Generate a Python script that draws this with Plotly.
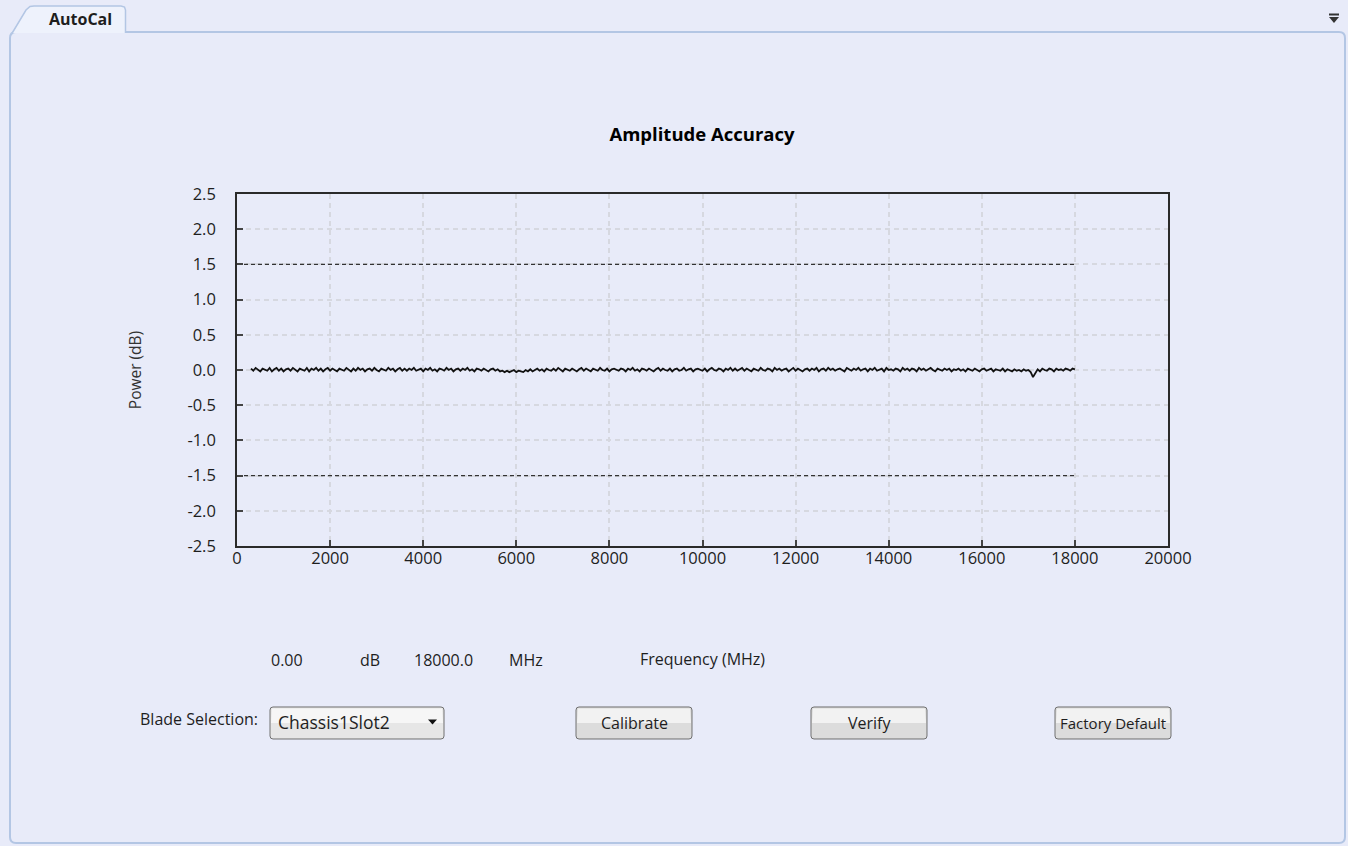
import plotly.graph_objects as go

# ---------------- data ----------------
start_freq_mhz = 300
step_mhz = 50
power_db = [
    0.02, -0.01, 0.03, 0.00, -0.02, 0.02, 0.01, -0.01, 0.03, -0.02,
    0.01, 0.03, -0.01, 0.02, -0.02, 0.01, 0.02, -0.01, 0.03, 0.00,
    -0.02, 0.02, 0.01, -0.01, 0.03, -0.02, 0.02, 0.00, 0.03, -0.01,
    0.02, -0.02, 0.01, 0.03, -0.01, 0.02, 0.00, -0.02, 0.02, 0.01,
    -0.01, 0.03, 0.01, -0.02, 0.02, -0.01, 0.03, 0.00, 0.02, -0.02,
    0.01, 0.02, -0.01, 0.03, 0.00, -0.02, 0.02, 0.01, -0.01, 0.03,
    0.00, 0.02, -0.02, 0.01, 0.03, -0.01, 0.02, -0.01, 0.02, 0.00,
    0.03, -0.01, 0.01, 0.02, -0.02, 0.02, 0.00, 0.03, -0.01, 0.01,
    -0.02, 0.02, 0.01, -0.01, 0.03, 0.00, 0.02, -0.02, 0.01, 0.02,
    -0.01, 0.02, 0.00, 0.03, -0.01, 0.01, -0.02, 0.02, 0.01, -0.01,
    0.02, 0.00, -0.02, 0.01, 0.02, -0.01, 0.01, -0.02, -0.01, -0.03,
    -0.01, -0.03, -0.02, 0.00, -0.03, -0.01, -0.02, -0.03, 0.00, -0.02,
    0.01, -0.02, 0.00, 0.02, -0.01, 0.01, -0.02, 0.02, 0.00, -0.01,
    0.02, -0.01, 0.03, 0.00, -0.02, 0.02, 0.01, -0.01, 0.02, 0.00,
    -0.02, 0.01, 0.03, -0.01, 0.02, 0.00, -0.02, 0.02, 0.01, -0.01,
    0.03, 0.00, -0.01, 0.02, -0.02, 0.01, 0.02, 0.00, -0.01, 0.02,
    0.01, -0.02, 0.02, 0.00, 0.03, -0.01, 0.01, -0.02, 0.02, 0.01,
    -0.01, 0.02, 0.00, -0.02, 0.01, 0.03, -0.01, 0.02, 0.00, -0.01,
    0.02, -0.02, 0.01, 0.02, -0.01, 0.00, 0.03, -0.01, 0.01, 0.02,
    -0.02, 0.01, 0.02, 0.00, -0.01, 0.02, -0.02, 0.01, 0.03, 0.00,
    -0.01, 0.02, 0.01, -0.02, 0.02, 0.00, 0.03, -0.01, 0.02, -0.01,
    0.01, 0.03, -0.01, 0.02, 0.00, -0.02, 0.02, 0.01, -0.01, 0.03,
    0.00, -0.01, 0.02, 0.01, -0.02, 0.03, 0.00, 0.02, -0.01, 0.01,
    0.02, -0.02, 0.01, 0.03, -0.01, 0.02, 0.00, -0.02, 0.01, 0.02,
    -0.01, 0.02, 0.00, 0.03, -0.02, 0.01, 0.02, -0.01, 0.03, 0.00,
    0.02, -0.01, 0.01, 0.02, 0.00, -0.02, 0.03, 0.01, -0.01, 0.02,
    0.00, 0.03, -0.01, 0.01, 0.02, -0.02, 0.02, 0.00, 0.03, -0.01,
    0.01, 0.02, -0.02, 0.03, 0.00, 0.01, -0.01, 0.02, 0.01, -0.02,
    0.03, 0.00, 0.02, -0.01, 0.02, 0.01, -0.02, 0.03, 0.00, 0.02,
    -0.01, 0.01, 0.03, 0.00, -0.02, 0.02, 0.01, -0.01, 0.02, 0.00,
    0.02, -0.02, 0.01, 0.00, 0.02, -0.01, 0.01, -0.02, 0.02, 0.01,
    -0.01, 0.02, 0.00, -0.02, 0.01, 0.02, -0.01, 0.00, 0.02, -0.02,
    0.01, 0.00, -0.01, 0.02, -0.02, 0.01, 0.00, -0.02, 0.01, -0.01,
    0.00, -0.02, 0.01, -0.01, 0.00, -0.03, -0.10, -0.05, 0.01, -0.02,
    0.02, 0.00, -0.01, 0.02, 0.01, -0.02, 0.02, 0.00, 0.01, -0.01,
    0.02, 0.01, -0.01, 0.02, 0.01,
]
freq_mhz = [start_freq_mhz + step_mhz * i for i in range(len(power_db))]

limit_freq = [0, 18000]
upper_limit = [1.5, 1.5]
lower_limit = [-1.5, -1.5]

x_tick_vals = [0, 2000, 4000, 6000, 8000, 10000, 12000, 14000, 16000, 18000, 20000]
x_tick_text = ["0", "2000", "4000", "6000", "8000", "10000", "12000", "14000", "16000", "18000", "20000"]
y_tick_vals = [-2.5, -2.0, -1.5, -1.0, -0.5, 0.0, 0.5, 1.0, 1.5, 2.0, 2.5]
y_tick_text = ["-2.5", "-2.0", "-1.5", "-1.0", "-0.5", "0.0", "0.5", "1.0", "1.5", "2.0", "2.5"]

readout_power = "0.00"
readout_freq = "18000.0"
blade_name = "Chassis1Slot2"

# ---------------- layout helpers ----------------
W, H = 1348, 846
BG = "#e8ebf9"
FONT = "Open Sans, Noto Sans, DejaVu Sans, sans-serif"
TXT = "#1e1e1e"


def px(x):
    return x / W


def py(y):
    return 1 - y / H


def rrect_path(x0, y0, x1, y1, r):
    pts = [
        ("M", [(x0 + r, y0)]), ("L", [(x1 - r, y0)]), ("Q", [(x1, y0), (x1, y0 + r)]),
        ("L", [(x1, y1 - r)]), ("Q", [(x1, y1), (x1 - r, y1)]), ("L", [(x0 + r, y1)]),
        ("Q", [(x0, y1), (x0, y1 - r)]), ("L", [(x0, y0 + r)]), ("Q", [(x0, y0), (x0 + r, y0)]),
    ]
    s = ""
    for cmd, ps in pts:
        s += cmd + " " + " ".join(f"{px(a):.6f},{py(b):.6f}" for a, b in ps) + " "
    return s + "Z"


def poly_path(points, close=True):
    s = "M " + " L ".join(f"{px(a):.6f},{py(b):.6f}" for a, b in points)
    return s + (" Z" if close else "")


shapes = []
annotations = []


def label(text, x, y, size=16, anchor="center", color=TXT):
    annotations.append(dict(text=text, x=px(x), y=py(y), xref="paper", yref="paper",
                            showarrow=False, xanchor=anchor, yanchor="middle",
                            font=dict(family=FONT, size=size, color=color)))


# panel
shapes.append(dict(type="path", xref="paper", yref="paper", layer="below",
                   path=rrect_path(10, 32, 1345, 843, 6),
                   fillcolor=BG, line=dict(color="#b3c6e4", width=2)))
# tab
tab_pts = [(11, 35), (26, 10), (30, 6.5), (34, 6), (121, 6), (124.5, 7), (125.5, 10), (125.5, 33), (11, 33)]
shapes.append(dict(type="path", xref="paper", yref="paper", layer="below",
                   path=poly_path(tab_pts), fillcolor="#eef2fc", line=dict(width=0)))
shapes.append(dict(type="path", xref="paper", yref="paper", layer="below",
                   path=poly_path(tab_pts[:8], close=False), fillcolor="rgba(0,0,0,0)",
                   line=dict(color="#b3c6e4", width=1.5)))
label("<b>AutoCal</b>", 80, 19, size=16)

# top-right menu icon
shapes.append(dict(type="line", xref="paper", yref="paper", x0=px(1329), x1=px(1339),
                   y0=py(14.5), y1=py(14.5), line=dict(color="#333333", width=2)))
shapes.append(dict(type="path", xref="paper", yref="paper",
                   path=poly_path([(1329, 17), (1339, 17), (1334, 23)]),
                   fillcolor="#333333", line=dict(width=0)))


def button(x0, y0, x1, y1, text, size=16, light=False, align="center"):
    top = "#f6f6f6" if light else "#f2f2f2"
    bot = "#e6e6e6" if light else "#dcdcdc"
    ym = (y0 + y1) / 2
    shapes.append(dict(type="path", xref="paper", yref="paper",
                       path=rrect_path(x0, y0, x1, y1, 3), fillcolor=bot, line=dict(width=0)))
    shapes.append(dict(type="path", xref="paper", yref="paper",
                       path=poly_path([(x0 + 2, y0 + 1.5), (x1 - 2, y0 + 1.5), (x1 - 1, ym), (x0 + 1, ym)]),
                       fillcolor=top, line=dict(width=0)))
    shapes.append(dict(type="path", xref="paper", yref="paper",
                       path=rrect_path(x0, y0, x1, y1, 3), fillcolor="rgba(0,0,0,0)",
                       line=dict(color="#707070", width=1)))
    if align == "center":
        label(text, (x0 + x1) / 2, ym, size=size)
    else:
        label(text, x0 + 6, ym - 1.5, size=size, anchor="left")


button(270, 707, 444, 739, blade_name, size=17.5, light=True, align="left")
shapes.append(dict(type="path", xref="paper", yref="paper",
                   path=poly_path([(428, 719.5), (437, 719.5), (432.5, 724.5)]),
                   fillcolor="#111111", line=dict(width=0)))
button(576, 707, 692, 739, "Calibrate", size=16)
button(811, 707, 927, 739, "Verify", size=16)
button(1055, 707, 1171, 739, "Factory Default", size=15)

label("Blade Selection:", 260, 719, size=16, anchor="right")

for txt, cx in [(readout_power, 287), ("dB", 370), (readout_freq, 443.5), ("MHz", 526)]:
    label(txt, cx, 660, size=16)

# ---------------- figure ----------------
fig = go.Figure()
fig.add_trace(go.Scatter(x=limit_freq, y=upper_limit, mode="lines",
                         line=dict(color="#333333", width=1.4, dash="4px,3px"),
                         hoverinfo="skip", showlegend=False))
fig.add_trace(go.Scatter(x=limit_freq, y=lower_limit, mode="lines",
                         line=dict(color="#333333", width=1.4, dash="4px,3px"),
                         hoverinfo="skip", showlegend=False))
fig.add_trace(go.Scatter(x=freq_mhz, y=power_db, mode="lines",
                         line=dict(color="#111111", width=1.8),
                         showlegend=False, name="Power"))

grid = dict(showgrid=True, gridcolor="#d6d8e0", gridwidth=1.8, griddash="5px,4px")
axis_common = dict(ticks="inside", ticklen=6, tickwidth=1.5, tickcolor="#444444",
                   showline=True, linecolor="#2a2a2a", linewidth=1.6, mirror=True,
                   zeroline=False, automargin=False,
                   tickfont=dict(family=FONT, size=16.5, color=TXT), **grid)
fig.update_layout(
    width=W, height=H, autosize=False,
    margin=dict(l=0, r=0, t=0, b=0, pad=0, autoexpand=False),
    paper_bgcolor=BG, plot_bgcolor=BG,
    font=dict(family=FONT, size=16, color=TXT),
    showlegend=False,
    title=dict(text="<b>Amplitude Accuracy</b>", x=px(702), y=py(135),
               xanchor="center", yanchor="middle", xref="paper", yref="paper",
               font=dict(family=FONT, size=18.5, color="#000000")),
    xaxis=dict(domain=[px(237), px(1168)], range=[0, 20000], tickmode="array",
               tickvals=x_tick_vals, ticktext=x_tick_text, ticklabelstandoff=-4,
               title=dict(text="Frequency (MHz)", standoff=86,
                          font=dict(family=FONT, size=16, color=TXT)),
               **axis_common),
    yaxis=dict(domain=[py(546), py(194)], range=[-2.5, 2.5], tickmode="array",
               tickvals=y_tick_vals, ticktext=y_tick_text, ticklabelstandoff=16,
               title=dict(text="Power (dB)", standoff=42,
                          font=dict(family=FONT, size=15.5, color="#333333")),
               **axis_common),
    shapes=shapes,
    annotations=annotations,
)

fig.write_html("out.html", config={"displayModeBar": False},
               post_script="document.body.style.margin='0';document.body.style.overflow='hidden';")
